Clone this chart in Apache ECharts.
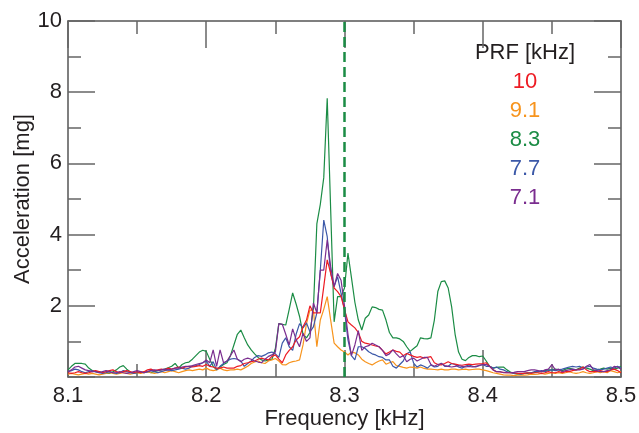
<!DOCTYPE html>
<html>
<head>
<meta charset="utf-8">
<script src="https://cdn.jsdelivr.net/npm/echarts@6/dist/echarts.min.js"></script>
<style>html,body{margin:0;padding:0;background:#fff;}#chart{width:639px;height:433px;}</style>
</head>
<body>
<div id="chart"></div>
<script>
// Sampling grid (kHz)
const freqStart = 8.1;
const freqStep = 0.0025;
const xTicks = ['8.1', '8.2', '8.3', '8.4', '8.5'];
const yTicks = ['', '2', '4', '6', '8', '10'];
const prfNames = ['10', '9.1', '8.3', '7.7', '7.1'];

// Acceleration [mg], index 0..160
const prf10 = [
0.12,0.1,0.12,0.15,0.12,0.1,0.12,0.15,0.18,0.15,0.12,0.15,0.18,0.2,0.15,0.12,0.15,0.18,0.15,0.12,
0.15,0.12,0.15,0.2,0.22,0.18,0.2,0.22,0.2,0.25,0.22,0.25,0.28,0.25,0.28,0.3,0.28,0.3,0.32,0.3,
0.35,0.3,0.28,0.25,0.25,0.28,0.25,0.25,0.25,0.3,0.32,0.38,0.4,0.43,0.45,0.5,0.53,0.5,0.48,0.58,
0.62,0.5,0.4,0.62,0.75,0.85,1.04,1.13,1.41,1.6,2.0,1.8,1.8,1.8,2.54,3.29,2.91,2.5,2.4,2.26,
1.9,1.55,1.46,1.38,1.25,1.0,0.95,0.93,0.9,0.87,0.85,0.75,0.65,0.7,0.76,0.72,0.7,0.6,0.66,0.62,
0.58,0.55,0.57,0.53,0.55,0.57,0.4,0.35,0.34,0.38,0.43,0.38,0.36,0.34,0.33,0.35,0.36,0.35,0.36,0.37,
0.38,0.4,0.3,0.2,0.15,0.14,0.13,0.12,0.12,0.12,0.1,0.1,0.1,0.12,0.1,0.12,0.12,0.1,0.12,0.15,
0.12,0.12,0.15,0.12,0.15,0.15,0.18,0.2,0.22,0.28,0.2,0.15,0.15,0.15,0.18,0.15,0.15,0.2,0.22,0.18,
0.12];
const prf91 = [
0.08,0.1,0.08,0.06,0.08,0.1,0.08,0.1,0.08,0.06,0.08,0.1,0.12,0.1,0.08,0.1,0.12,0.1,0.08,0.1,
0.12,0.1,0.12,0.15,0.12,0.1,0.12,0.15,0.12,0.15,0.18,0.15,0.12,0.15,0.18,0.2,0.18,0.2,0.22,0.2,
0.25,0.2,0.18,0.2,0.25,0.2,0.18,0.2,0.2,0.22,0.2,0.25,0.3,0.38,0.42,0.45,0.4,0.38,0.45,0.48,
0.52,0.45,0.35,0.34,0.4,0.43,0.45,0.48,0.9,1.5,1.88,1.88,0.85,1.6,1.9,2.26,1.6,0.95,0.85,0.76,
0.7,0.62,0.7,0.68,0.62,0.5,0.43,0.38,0.34,0.4,0.45,0.48,0.36,0.4,0.43,0.32,0.3,0.27,0.25,0.28,
0.27,0.25,0.28,0.24,0.22,0.22,0.21,0.2,0.22,0.2,0.2,0.22,0.22,0.2,0.21,0.22,0.2,0.21,0.22,0.22,
0.2,0.18,0.15,0.12,0.1,0.08,0.06,0.05,0.05,0.04,0.05,0.06,0.05,0.06,0.08,0.07,0.08,0.1,0.08,0.1,
0.12,0.1,0.12,0.1,0.12,0.15,0.12,0.1,0.12,0.15,0.12,0.1,0.12,0.15,0.12,0.15,0.12,0.18,0.15,0.12,
0.15];
const prf83 = [
0.2,0.3,0.38,0.38,0.38,0.36,0.25,0.18,0.15,0.15,0.12,0.1,0.1,0.15,0.2,0.28,0.32,0.22,0.14,0.1,
0.12,0.12,0.14,0.15,0.12,0.15,0.18,0.2,0.22,0.26,0.3,0.38,0.25,0.35,0.4,0.42,0.5,0.6,0.7,0.75,
0.72,0.5,0.3,0.2,0.28,0.35,0.4,0.6,0.9,1.2,1.32,1.1,0.9,0.76,0.65,0.55,0.48,0.45,0.48,0.5,
0.8,1.5,1.48,1.46,1.9,2.36,2.05,1.7,1.2,1.1,1.25,1.9,4.3,4.85,5.6,7.83,4.7,1.55,2.26,2.26,
2.5,3.48,2.8,2.1,1.6,1.32,1.65,1.74,1.97,1.95,1.9,1.88,1.6,1.25,1.1,1.1,1.07,1.0,0.85,0.72,
0.8,0.88,1.1,1.08,1.07,1.1,1.6,2.4,2.68,2.7,2.5,1.97,1.2,0.7,0.5,0.46,0.55,0.6,0.6,0.57,
0.59,0.45,0.3,0.25,0.27,0.28,0.28,0.2,0.14,0.1,0.08,0.08,0.1,0.1,0.12,0.12,0.15,0.15,0.18,0.2,
0.2,0.22,0.2,0.18,0.22,0.25,0.22,0.2,0.25,0.28,0.25,0.22,0.18,0.2,0.22,0.25,0.22,0.25,0.22,0.25,
0.3];
const prf77 = [
0.15,0.18,0.22,0.2,0.15,0.12,0.15,0.18,0.15,0.12,0.1,0.12,0.15,0.12,0.1,0.12,0.18,0.15,0.12,0.1,
0.12,0.15,0.12,0.15,0.18,0.15,0.12,0.15,0.18,0.2,0.18,0.2,0.22,0.25,0.22,0.25,0.3,0.32,0.35,0.4,
0.45,0.3,0.43,0.2,0.3,0.38,0.45,0.5,0.52,0.5,0.45,0.3,0.38,0.45,0.55,0.6,0.58,0.62,0.68,0.7,
0.65,0.55,0.95,1.1,0.85,0.75,1.2,1.5,1.38,1.52,1.27,1.41,1.8,3.0,4.41,3.94,2.91,2.54,2.82,2.35,
1.88,1.04,0.6,0.48,0.85,0.85,0.8,0.71,0.65,0.62,0.57,0.55,0.48,0.48,0.3,0.25,0.35,0.45,0.65,0.71,
0.39,0.28,0.34,0.3,0.25,0.34,0.28,0.3,0.39,0.3,0.3,0.38,0.35,0.28,0.25,0.3,0.34,0.3,0.28,0.33,
0.35,0.3,0.3,0.25,0.28,0.22,0.2,0.15,0.12,0.1,0.1,0.08,0.1,0.12,0.12,0.15,0.15,0.18,0.15,0.18,
0.2,0.18,0.2,0.22,0.25,0.28,0.3,0.28,0.3,0.25,0.28,0.3,0.25,0.22,0.2,0.22,0.25,0.28,0.25,0.3,
0.25];
const prf71 = [
0.15,0.2,0.28,0.3,0.25,0.2,0.18,0.15,0.15,0.12,0.15,0.18,0.15,0.12,0.12,0.15,0.12,0.1,0.12,0.15,
0.18,0.15,0.12,0.15,0.18,0.2,0.18,0.2,0.22,0.2,0.22,0.25,0.25,0.28,0.3,0.3,0.32,0.35,0.38,0.4,
0.48,0.4,0.76,0.3,0.76,0.4,0.45,0.6,0.76,0.5,0.43,0.5,0.53,0.5,0.45,0.42,0.4,0.5,0.58,0.62,
0.7,1.5,1.48,1.2,0.9,1.35,1.05,0.85,1.23,1.0,1.1,2.08,1.8,3.0,3.0,3.85,3.1,2.54,2.91,2.72,
2.0,1.2,0.6,0.9,1.3,0.75,0.85,0.88,0.95,0.9,0.85,0.75,0.6,0.65,0.76,0.65,0.55,0.6,0.43,0.5,
0.53,0.45,0.5,0.55,0.55,0.35,0.3,0.35,0.38,0.32,0.3,0.28,0.3,0.32,0.3,0.28,0.3,0.28,0.3,0.32,
0.35,0.35,0.3,0.2,0.15,0.15,0.12,0.12,0.12,0.13,0.15,0.15,0.15,0.18,0.2,0.2,0.18,0.15,0.2,0.22,
0.35,0.2,0.22,0.15,0.18,0.2,0.22,0.2,0.2,0.22,0.3,0.35,0.2,0.18,0.15,0.15,0.18,0.2,0.3,0.28,
0.22];

const seriesValues = [prf10, prf91, prf83, prf77, prf71];
const colors = ['#ed1c24', '#f7941d', '#1b8c45', '#3b58a8', '#7a2d8f'];
const drawOrder = [2, 1, 3, 0, 4];

function pairs(vals) {
  return vals.map((v, i) => [+(freqStart + i * freqStep).toFixed(4), v]);
}

const FONT = '"Liberation Sans", Arial, sans-serif';
const TXT = '#231f20';
const AX = '#555';

function axisCommon(showLabel, isX) {
  return {
    axisLine: { show: true, onZero: false, lineStyle: { color: AX, width: 1.5 } },
    axisTick: { show: true, inside: true, length: 27, lineStyle: { color: '#666', width: 1.5 } },
    minorTick: { show: true, splitNumber: 2, length: 13, lineStyle: { color: '#666', width: 1.5 } },
    splitLine: { show: false },
    minorSplitLine: { show: false },
    axisLabel: {
      show: showLabel,
      fontSize: 22,
      fontFamily: FONT,
      color: TXT,
      margin: isX ? 8 : 6,
      padding: isX ? 0 : [0, 0, 6, 0],
      formatter: isX
        ? (v) => xTicks[Math.round((v - 8.1) / 0.1)]
        : (v) => yTicks[Math.round(v / 2)]
    }
  };
}

const series = drawOrder.map((k) => {
  const s = {
    name: prfNames[k],
    type: 'line',
    data: pairs(seriesValues[k]),
    showSymbol: false,
    symbol: 'none',
    lineStyle: { color: colors[k], width: 1.2 },
    itemStyle: { color: colors[k] },
    xAxisIndex: 0,
    yAxisIndex: 0,
    z: 3,
    clip: true
  };
  if (k === 2) {
    s.markLine = {
      silent: true,
      symbol: ['none', 'none'],
      label: { show: false },
      lineStyle: { color: '#1b8c45', type: [10, 5], width: 2.5 },
      data: [{ xAxis: 8.3 }],
      animation: false
    };
  }
  return s;
});

const legendY = [53, 82, 111, 140, 169, 198];
const graphic = [
  { type: 'text', x: 525, y: legendY[0],
    style: { text: 'PRF [kHz]', fill: TXT, fontSize: 22, fontFamily: FONT, align: 'center', verticalAlign: 'middle' } }
];
prfNames.forEach((n, k) => {
  graphic.push({ type: 'text', x: 525, y: legendY[k + 1],
    style: { text: n, fill: colors[k], fontSize: 22, fontFamily: FONT, align: 'center', verticalAlign: 'middle' } });
});

const chart = echarts.init(document.getElementById('chart'), null, { renderer: 'canvas' });
chart.setOption({
  animation: false,
  backgroundColor: '#fff',
  grid: { left: 68, right: 18, top: 21, bottom: 56, containLabel: false, outerBoundsMode: 'none' },
  xAxis: [
    Object.assign({ type: 'value', min: 8.1, max: 8.5, interval: 0.1, position: 'bottom',
      name: 'Frequency [kHz]', nameLocation: 'middle', nameGap: 31, nameMoveOverlap: false,
      nameTextStyle: { fontSize: 22, fontFamily: FONT, color: TXT } }, axisCommon(true, true)),
    Object.assign({ type: 'value', min: 8.1, max: 8.5, interval: 0.1, position: 'top' }, axisCommon(false, true))
  ],
  yAxis: [
    Object.assign({ type: 'value', min: 0, max: 10, interval: 2, position: 'left',
      name: 'Acceleration [mg]', nameLocation: 'middle', nameGap: 34, nameMoveOverlap: false,
      nameTextStyle: { fontSize: 22, fontFamily: FONT, color: TXT } }, axisCommon(true, false)),
    Object.assign({ type: 'value', min: 0, max: 10, interval: 2, position: 'right' }, axisCommon(false, false))
  ],
  series: series,
  graphic: graphic
});
</script>
</body>
</html>
